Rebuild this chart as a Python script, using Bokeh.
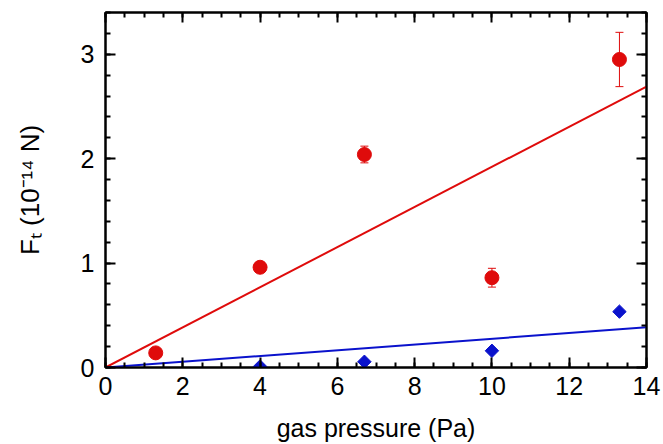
import math
from bokeh.plotting import figure
from bokeh.models import (Range1d, LinearAxis, SingleIntervalTicker,
                          Whisker, TeeHead, ColumnDataSource, CustomJSTickFormatter)
from bokeh.embed import file_html
from bokeh.resources import INLINE

# ---- data ----
x_red = [1.3, 4.0, 6.7, 10.0, 13.3]
y_red = [0.14, 0.96, 2.04, 0.86, 2.95]
err_red = [0.02, 0.03, 0.08, 0.09, 0.26]

x_blue = [4.0, 6.7, 10.0, 13.3]
y_blue = [0.01, 0.055, 0.16, 0.535]

fit_x = [0.0, 14.0]
fit_red_y = [0.0, 2.69]
fit_blue_y = [0.0, 0.385]

x_label = "gas pressure (Pa)"
y_label = "F\u209c (10\u207b\u00b9\u2074 N)"

RED = "#df0b0b"
BLUE = "#0a12cc"
FONT = "Liberation Sans"

p = figure(width=663, height=444, x_range=Range1d(0, 14), y_range=Range1d(0, 3.4),
           output_backend="svg", toolbar_location=None,
           min_border_left=105, min_border_right=17, min_border_top=12, min_border_bottom=76)
p.xgrid.visible = False
p.ygrid.visible = False
p.outline_line_color = "black"
p.outline_line_width = 2
p.background_fill_color = "white"
p.border_fill_color = "white"


def style_axis(ax, labels=True):
    ax.axis_line_width = 2
    ax.major_tick_line_width = 2
    ax.minor_tick_line_width = 2
    ax.major_tick_in = 10
    ax.major_tick_out = 0
    ax.minor_tick_in = 5
    ax.minor_tick_out = 0
    ax.major_label_text_font = FONT
    ax.major_label_text_font_size = "25px"
    ax.major_label_text_color = "black"
    ax.axis_label_text_font = FONT
    ax.axis_label_text_font_style = "normal"
    ax.axis_label_text_font_size = "25px"
    ax.axis_label_text_color = "black"
    if not labels:
        ax.formatter = CustomJSTickFormatter(code="return ''")
        ax.major_label_standoff = 0


p.xaxis.ticker = SingleIntervalTicker(interval=2, num_minor_ticks=4)
p.yaxis.ticker = SingleIntervalTicker(interval=1, num_minor_ticks=5)
style_axis(p.xaxis[0])
style_axis(p.yaxis[0])
p.xaxis.major_label_standoff = 9
p.yaxis.major_label_standoff = 11
p.xaxis.axis_label = x_label
p.xaxis.axis_label_standoff = 16
p.yaxis.axis_label = y_label
p.yaxis.axis_label_standoff = 33
p.yaxis.axis_label_text_font_size = "26px"

top = LinearAxis(ticker=SingleIntervalTicker(interval=2, num_minor_ticks=4))
right = LinearAxis(ticker=SingleIntervalTicker(interval=1, num_minor_ticks=5))
style_axis(top, labels=False)
style_axis(right, labels=False)
p.add_layout(top, "above")
p.add_layout(right, "right")

# fit lines
p.line(fit_x, fit_red_y, line_color=RED, line_width=2)
p.line(fit_x, fit_blue_y, line_color=BLUE, line_width=2)

# error bars
src = ColumnDataSource(dict(
    x=x_red,
    upper=[y + e for y, e in zip(y_red, err_red)],
    lower=[y - e for y, e in zip(y_red, err_red)],
))
p.add_layout(Whisker(base="x", upper="upper", lower="lower", source=src,
                     line_color=RED, line_width=1,
                     upper_head=TeeHead(size=8, line_color=RED, line_width=1),
                     lower_head=TeeHead(size=8, line_color=RED, line_width=1)))

p.scatter(x_red, y_red, marker="circle", size=14, fill_color=RED, line_color=RED)
p.scatter(x_blue, y_blue, marker="square", angle=math.pi / 4, size=9.5,
          fill_color=BLUE, line_color=BLUE)

open("out.html", "w").write(file_html(p, INLINE))
